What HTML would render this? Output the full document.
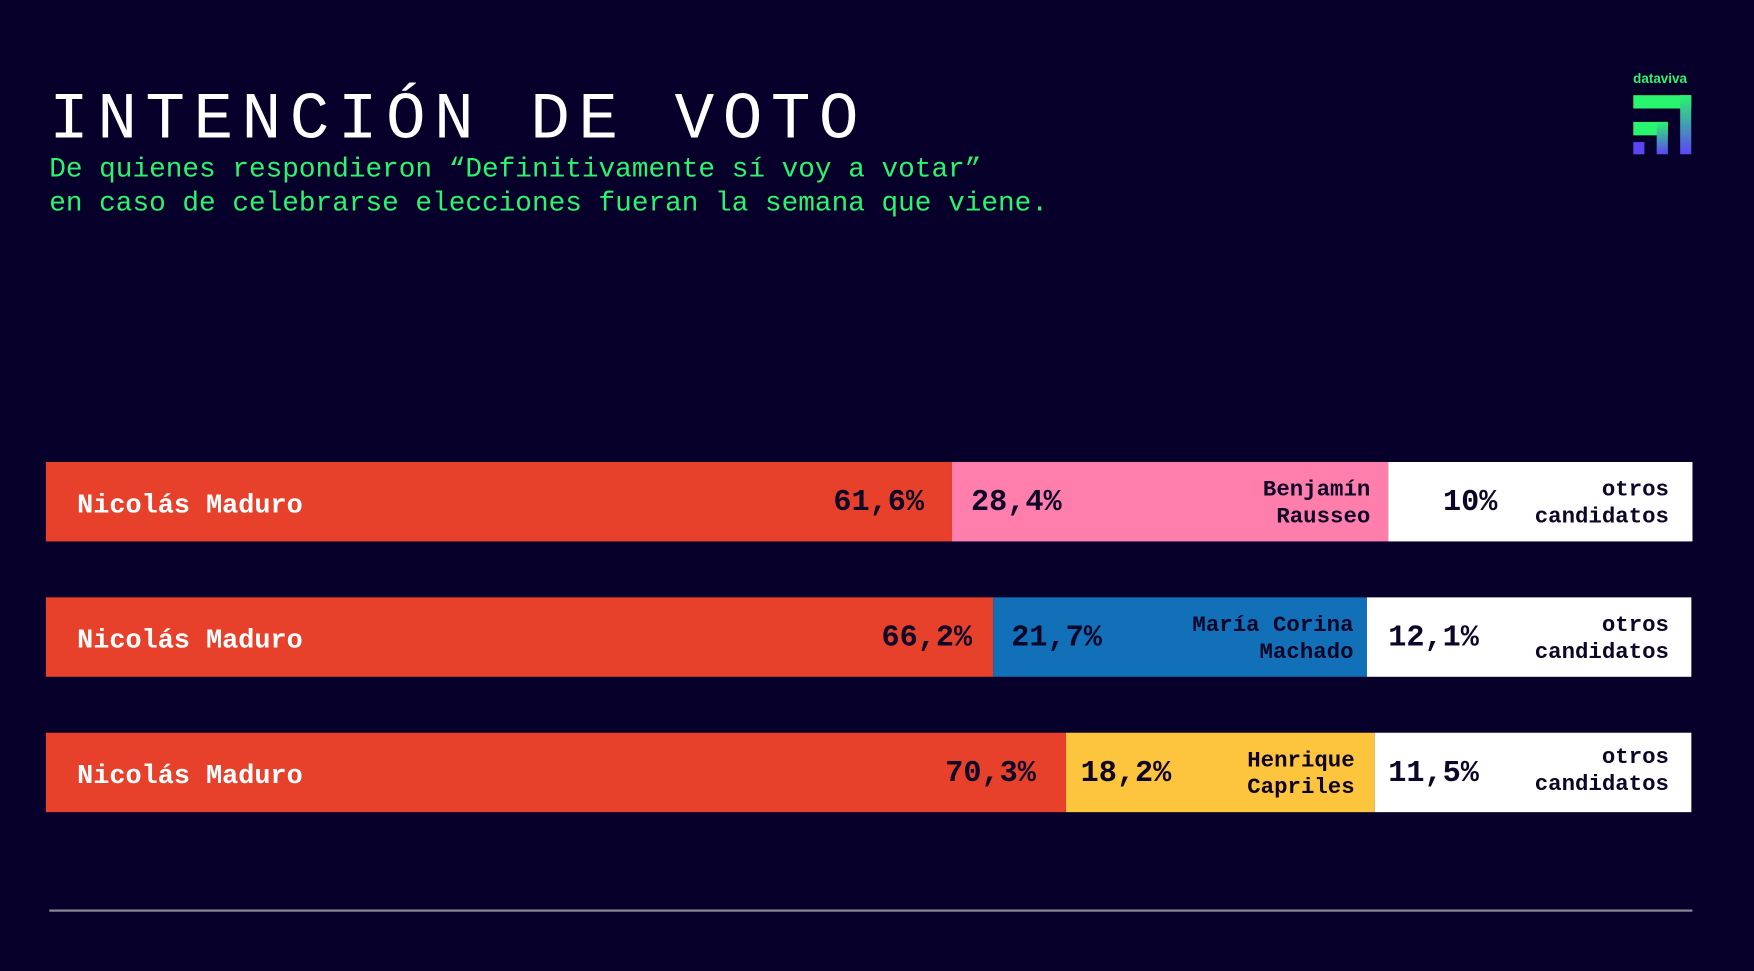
<!DOCTYPE html>
<html><head><meta charset="utf-8"><style>
html,body{margin:0;padding:0;background:#07002a;width:1754px;height:971px;overflow:hidden}
#s{position:absolute;left:0;top:0;width:1568px;height:868px;transform:scale(1.11862,1.11866);transform-origin:0 0;font-family:"Liberation Mono",monospace}
.a{position:absolute;white-space:nowrap}
.seg{position:absolute}
.n{color:#fff;font-weight:bold;font-size:24px}
.p{color:#0d0628;font-weight:bold;font-size:27px}
.l{color:#0d0628;font-weight:bold;font-size:20px;line-height:24px;text-align:right}
</style></head><body><div id="s">
<div class="a" style="left:44px;top:73px;font-size:59px;letter-spacing:7.6px;color:#fff;line-height:70px">INTENCIÓN DE VOTO</div>
<div class="a" style="left:44px;top:137px;font-size:24.8px;color:#2af56e;line-height:30px">De quienes respondieron “Definitivamente sí voy a votar”<br>en caso de celebrarse elecciones fueran la semana que viene.</div>
<div class="a" style="left:1460px;top:63px;font-family:'Liberation Sans',sans-serif;font-weight:bold;font-size:12px;color:#2af56e">dataviva</div>
<svg class="a" style="left:1460px;top:85px" width="52" height="53" viewBox="0 0 52 53">
<defs><linearGradient id="g" x1="0" y1="0" x2="0" y2="1"><stop offset="0" stop-color="#2af56e"/><stop offset="1" stop-color="#5b45f5"/></linearGradient></defs>
<rect x="0" y="0" width="52" height="12" fill="#2af56e"/>
<rect x="42" y="0" width="10" height="53" fill="url(#g)"/>
<rect x="0" y="24" width="31" height="12" fill="#2af56e"/>
<rect x="21" y="24" width="10" height="29" fill="url(#g)"/>
<rect x="0" y="42" width="10" height="11" fill="#5b45f5"/>
</svg>

<div class="seg" style="left:41px;top:413px;width:810px;height:71px;background:#e8412b"></div>
<div class="seg" style="left:851px;top:413px;width:390px;height:71px;background:#ff7eac"></div>
<div class="seg" style="left:1241px;top:413px;width:272px;height:71px;background:#fff"></div>
<div class="a n" style="left:69px;top:439px">Nicolás Maduro</div>
<div class="a p" style="right:742px;top:435px">61,6%</div>
<div class="a p" style="left:868px;top:435px">28,4%</div>
<div class="a l" style="right:343px;top:427px">Benjamín<br>Rausseo</div>
<div class="a p" style="left:1290px;top:435px">10%</div>
<div class="a l" style="right:76px;top:427px">otros<br>candidatos</div>

<div class="seg" style="left:41px;top:534px;width:847px;height:71px;background:#e8412b"></div>
<div class="seg" style="left:888px;top:534px;width:334px;height:71px;background:#1170b8"></div>
<div class="seg" style="left:1222px;top:534px;width:290px;height:71px;background:#fff"></div>
<div class="a n" style="left:69px;top:560px">Nicolás Maduro</div>
<div class="a p" style="right:699px;top:556px">66,2%</div>
<div class="a p" style="left:904px;top:556px">21,7%</div>
<div class="a l" style="right:358px;top:548px">María Corina<br>Machado</div>
<div class="a p" style="left:1241px;top:556px">12,1%</div>
<div class="a l" style="right:76px;top:548px">otros<br>candidatos</div>

<div class="seg" style="left:41px;top:655px;width:912px;height:71px;background:#e8412b"></div>
<div class="seg" style="left:953px;top:655px;width:276px;height:71px;background:#fdc43d"></div>
<div class="seg" style="left:1229px;top:655px;width:283px;height:71px;background:#fff"></div>
<div class="a n" style="left:69px;top:681px">Nicolás Maduro</div>
<div class="a p" style="right:642px;top:677px">70,3%</div>
<div class="a p" style="left:966px;top:677px">18,2%</div>
<div class="a l" style="right:357px;top:669px">Henrique<br>Capriles</div>
<div class="a p" style="left:1241px;top:677px">11,5%</div>
<div class="a l" style="right:76px;top:666px">otros<br>candidatos</div>

<div class="seg" style="left:44px;top:813px;width:1469px;height:2px;background:#8a8794"></div>
</div></body></html>
